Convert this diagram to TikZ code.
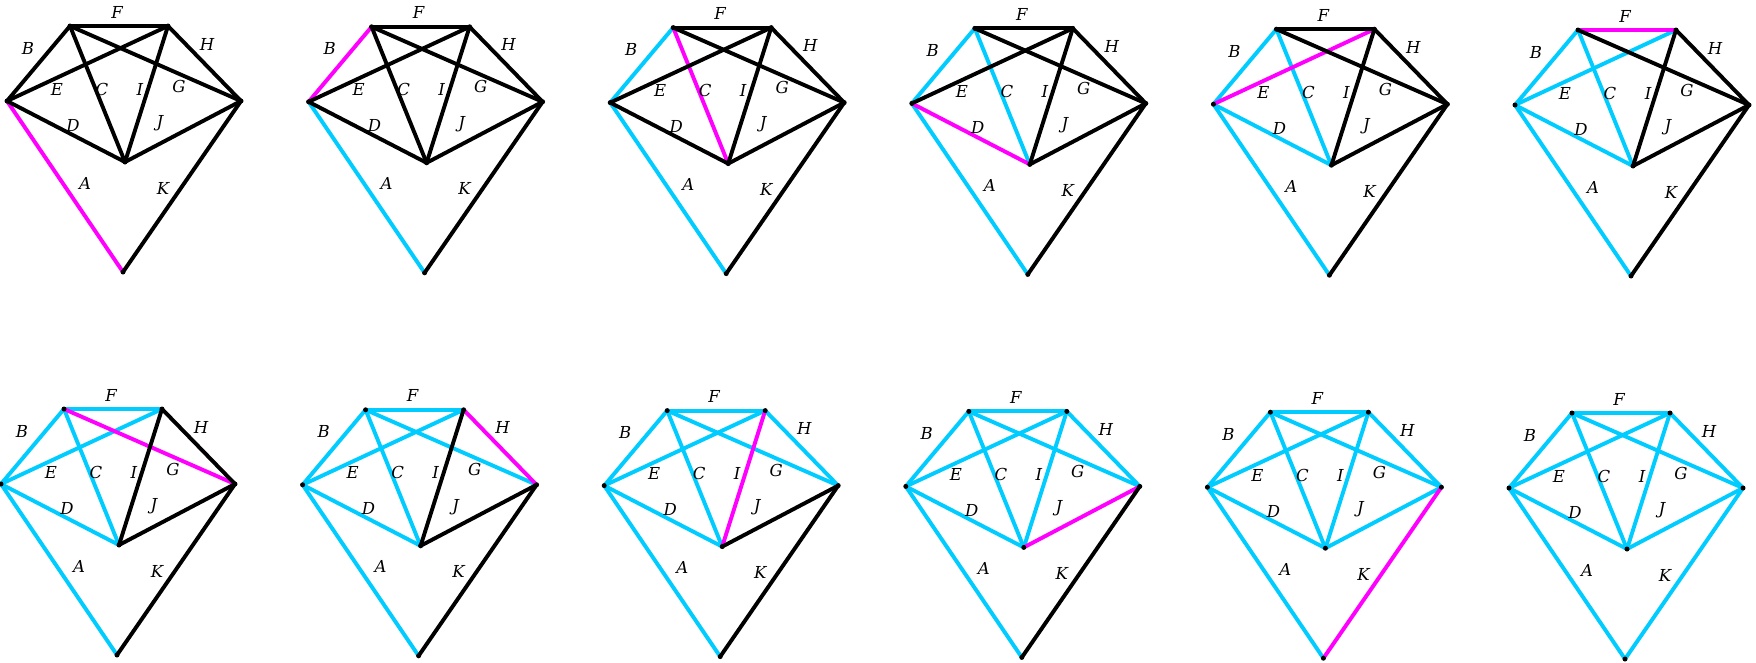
\documentclass[tikz,border=0pt]{standalone}
\usepackage{fontspec}
\setmainfont{DejaVu Serif}
\definecolor{mag}{HTML}{FF00FF}
\definecolor{cy}{HTML}{00CCFF}
\pgfdeclarelayer{bg}
\pgfsetlayers{bg,main}
\tikzset{
  edge/.style={line width=3.9pt, line cap=round},
  lab/.style={font=\itshape\fontsize{16.5}{16.5}\selectfont, inner sep=0pt},
  vert/.style={circle, fill=black, inner sep=0pt, minimum size=5pt}
}
\begin{document}
\begin{tikzpicture}[x=1pt,y=-1pt]
\useasboundingbox (0,0) rectangle (1756,662);
\foreach \n in {1,...,12} {
  \pgfmathtruncatemacro{\r}{int((\n-1)/6)}
  \pgfmathtruncatemacro{\c}{mod(\n-1,6)}
  \pgfmathsetmacro{\ox}{7+301.6*\c-6*\r}
  \pgfmathsetmacro{\oy}{101+0.8*\c+383*\r}
  \begin{scope}[shift={(\ox,\oy)}]
    \node[vert] (L\n) at (0,0) {};
    \node[vert] (TL\n) at (63,-75) {};
    \node[vert] (TR\n) at (161,-75) {};
    \node[vert] (R\n) at (234,0) {};
    \node[vert] (M\n) at (118,61) {};
    \node[vert] (Bot\n) at (116,171) {};
    \begin{pgfonlayer}{bg}
      \foreach \a/\b [count=\k] in {L/Bot, L/TL, TL/M, L/M, L/TR, TL/TR, TL/R, TR/R, TR/M, M/R, Bot/R} {
        \ifnum\k<\n \def\col{cy}\else\ifnum\k=\n \def\col{mag}\else\def\col{black}\fi\fi
        \draw[edge, draw=\col] (\a\n.center) -- (\b\n.center);
      }
    \end{pgfonlayer}
    \foreach \l/\lx/\ly in {F/110/-89, B/21/-53, H/200/-57, E/50/-12, C/95/-12, I/133/-12, G/172/-15, D/66/24, J/153/22, A/78/82, K/156/87} {
      \node[lab] (lab\n\l) at (\lx,\ly) {\l};
    }
  \end{scope}
}
\end{tikzpicture}
\end{document}
